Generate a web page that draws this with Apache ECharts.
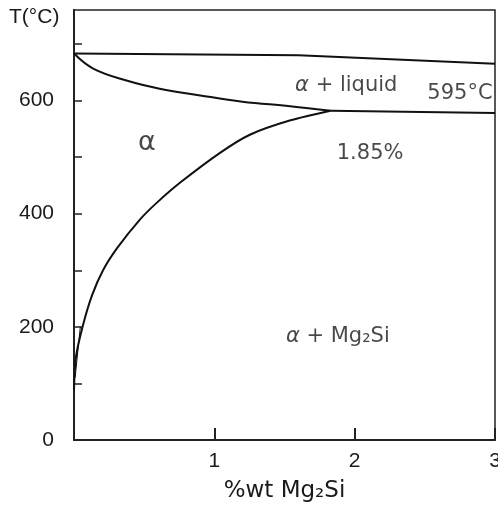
<!DOCTYPE html>
<html>
<head>
<meta charset="utf-8">
<script src="https://cdn.jsdelivr.net/npm/echarts@6/dist/echarts.min.js"></script>
<style>
  html, body { margin: 0; padding: 0; background: #fff; }
  #chart { width: 498px; height: 510px; }
</style>
</head>
<body>
<div id="chart"></div>
<script>
// phase boundaries: [wt% Mg2Si, T in °C]
const liquidusLine = [[0, 683], [1.6, 680], [3, 665]]
const solidusLine = [[0, 683], [0.14, 656], [0.38, 635], [0.61, 621], [0.9, 609], [1.2, 598], [1.54, 590], [1.83, 582]]
const eutecticLine = [[1.83, 582], [3, 578]]
const solvusLine = [[0, 88], [0.014, 147], [0.064, 203], [0.129, 256], [0.207, 300], [0.307, 339], [0.471, 390], [0.593, 420], [0.757, 455], [1.043, 508], [1.257, 540], [1.543, 565], [1.829, 582]]
const solvusEdge = [[0.045, 200], [0.008, 110]]

// region labels: [x, y, text]
const regionLabels = [
  [0.52, 525, '{big|α}'],
  [1.94, 626, '{i|α} + liquid'],
  [2.75, 612, '595°C'],
  [2.11, 506, '1.85%'],
  [1.88, 182, '{i|α} + Mg₂Si']
]

const xTicks = [1, 2, 3]
const yTicks = [0, 200, 400, 600]

const FONT = 'DejaVu Sans'
const INK = '#111'
const TEXT = '#1a1a1a'

const chart = echarts.init(document.getElementById('chart'))

const curve = (data, smooth) => ({
  type: 'line',
  data,
  smooth,
  symbol: 'none',
  silent: true,
  lineStyle: { color: INK, width: 2 }
})

chart.setOption({
  animation: false,
  backgroundColor: '#fff',
  grid: {
    left: 74,
    right: 3,
    top: 10,
    bottom: 70,
    outerBoundsMode: 'none',
    show: true,
    borderColor: '#222',
    borderWidth: 1.5
  },
  graphic: [{
    type: 'text',
    left: 9,
    top: 7,
    style: { text: 'T(°C)', font: '21px "Liberation Sans"', fill: TEXT }
  }],
  xAxis: {
    type: 'value',
    min: 0,
    max: 3,
    interval: 1,
    name: '%wt Mg₂Si',
    nameLocation: 'middle',
    nameGap: 40,
    nameTextStyle: { fontFamily: FONT, fontSize: 23, color: TEXT },
    axisLine: { lineStyle: { color: '#222', width: 2 } },
    axisTick: { inside: true, length: 12, lineStyle: { color: '#222', width: 2 } },
    axisLabel: {
      margin: 11,
      fontFamily: 'Liberation Sans',
      fontSize: 21,
      color: TEXT,
      showMinLabel: false,
      formatter: v => (xTicks.includes(v) ? String(v) : '')
    },
    splitLine: { show: false }
  },
  yAxis: {
    type: 'value',
    min: 0,
    max: 760,
    interval: 100,
    axisLine: { show: true, lineStyle: { color: '#222', width: 2 } },
    axisTick: { show: true, inside: true, length: 8, lineStyle: { color: '#222', width: 1.5 } },
    axisLabel: {
      margin: 20,
      fontFamily: 'Liberation Sans',
      fontSize: 21,
      color: TEXT,
      showMaxLabel: false,
      formatter: v => (yTicks.includes(v) ? String(v) : '')
    },
    splitLine: { show: false }
  },
  series: [
    curve(liquidusLine, false),
    curve(solidusLine, 0.4),
    curve(eutecticLine, false),
    curve(solvusLine, 0.3),
    Object.assign(curve(solvusEdge, false), { lineStyle: { color: INK, width: 1 } }),
    {
      type: 'scatter',
      symbolSize: 0,
      silent: true,
      data: regionLabels.map(d => ({ value: [d[0], d[1]], name: d[2] })),
      label: {
        show: true,
        position: 'inside',
        formatter: p => p.name,
        fontFamily: FONT,
        fontSize: 21,
        color: TEXT,
        rich: {
          i: { fontFamily: FONT, fontSize: 21, fontStyle: 'italic', color: TEXT },
          big: { fontFamily: FONT, fontSize: 27, color: TEXT }
        }
      }
    }
  ]
})
</script>
</body>
</html>
